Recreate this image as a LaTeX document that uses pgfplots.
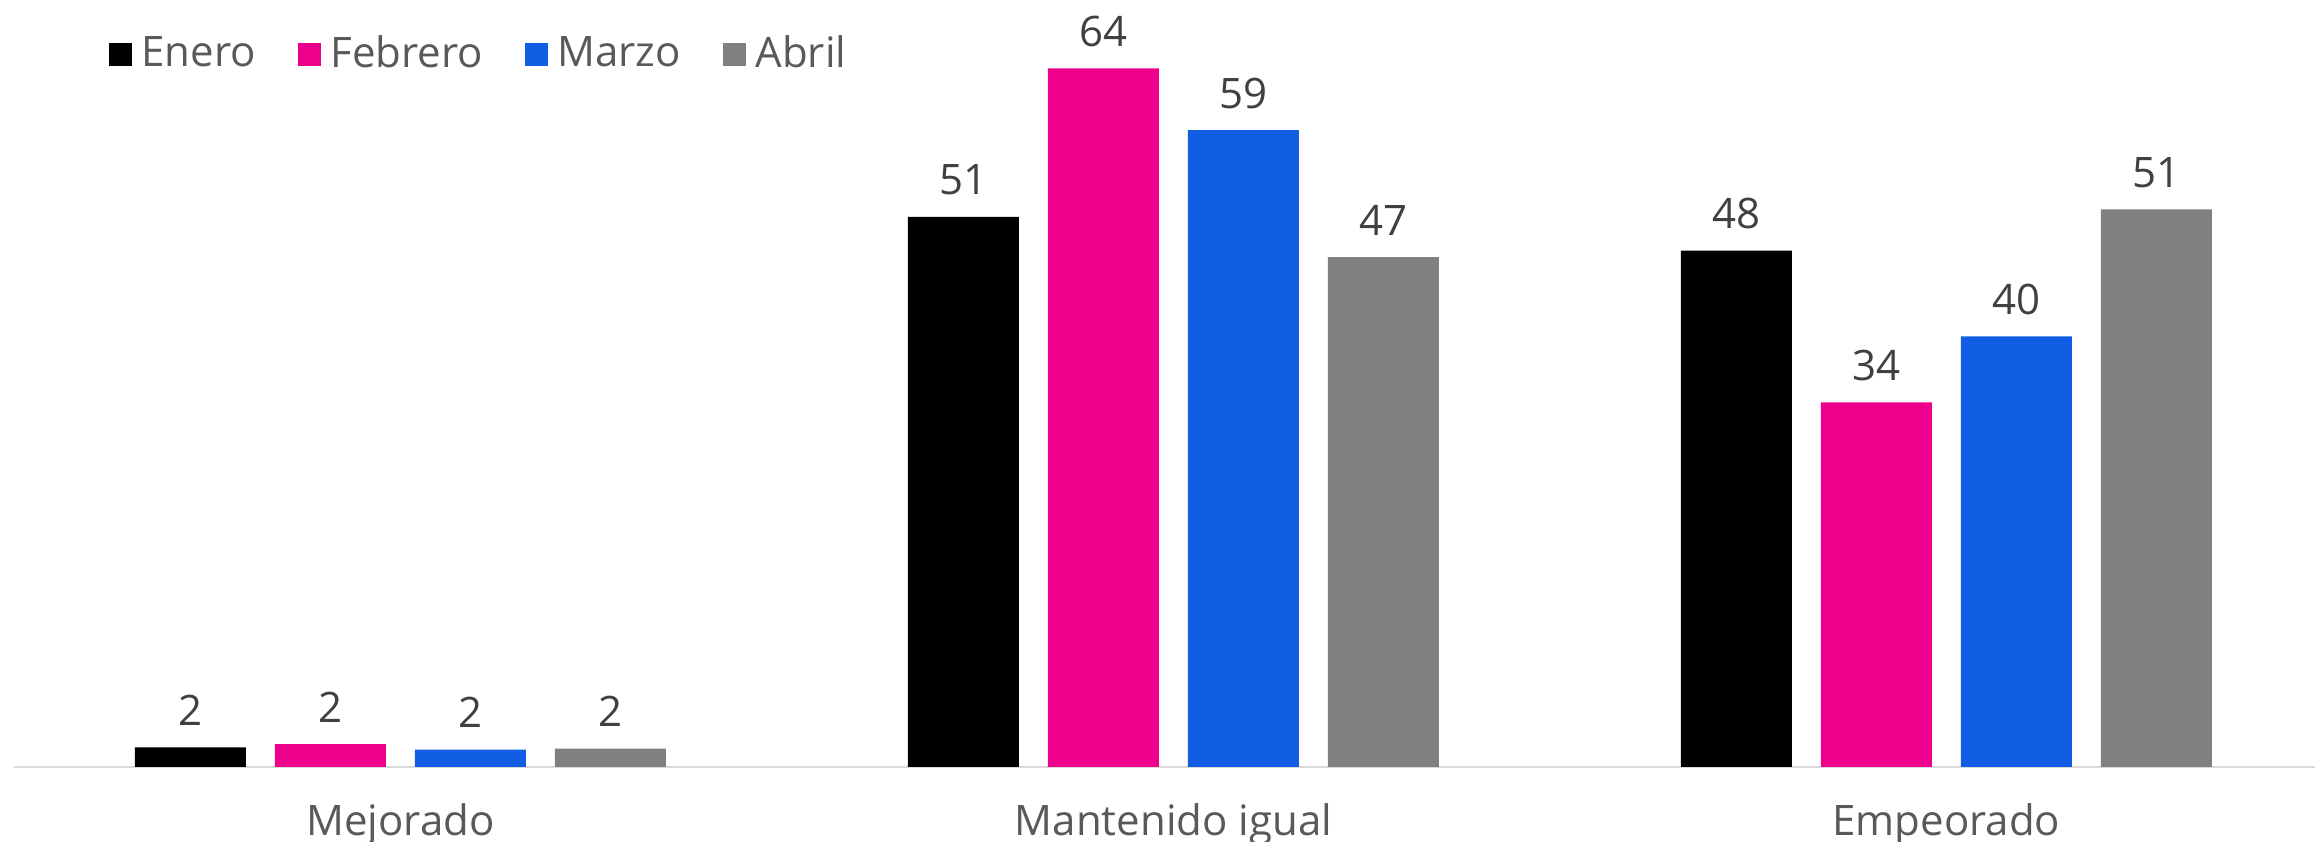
\documentclass[border=0pt]{standalone}
\usepackage{fontspec}
\setmainfont{Open Sans}
\usepackage{pgfplots}
\pgfplotsset{compat=1.18}

\definecolor{cEnero}{HTML}{000000}
\definecolor{cFeb}{HTML}{EC008C}
\definecolor{cMar}{HTML}{115DE3}
\definecolor{cAbr}{HTML}{808080}
\definecolor{txtgray}{HTML}{595959}
\definecolor{lblgray}{HTML}{404040}
\definecolor{linegray}{HTML}{D9D9D9}

\begin{document}
\begin{tikzpicture}
% 1 px of the reference = 0.25pt
\useasboundingbox (0,0) rectangle (578.75pt,210.5pt);
\begin{axis}[
    at={(3.5pt,18.75pt)}, anchor=south west,
    scale only axis,
    width=575.25pt, height=191.75pt,
    xmin=-0.5, xmax=2.477,
    ymin=0, ymax=70.7,
    enlargelimits=false,
    clip=false,
    ybar=7.25pt,
    bar width=27.75pt,
    axis x line*=bottom,
    axis y line=none,
    x axis line style={-, draw=linegray, line width=0.5pt},
    xtick={0,1,2},
    xticklabels={Mejorado, Mantenido igual, Empeorado},
    major tick length=0pt,
    xticklabel style={anchor=base, yshift=-17.25pt, font=\fontsize{10.5}{12}\selectfont, text=txtgray},
    /pgf/number format/assume math mode=true,
    nodes near coords={\pgfmathprintnumber[fixed,precision=0]{\pgfplotspointmeta}},
    nodes near coords style={anchor=base, yshift=5.5pt, font=\fontsize{10.5}{12}\selectfont, text=lblgray},
    legend image code/.code={\fill[#1] (0pt,-2.875pt) rectangle (5.75pt,2.875pt);},
    legend style={at={(0.0409,0.929)}, anchor=west, draw=none, fill=none, inner sep=0pt,
        legend columns=4, font=\fontsize{10.5}{12}\selectfont, text=txtgray,
        /tikz/every even column/.append style={column sep=8.5pt}},
]
\addplot[fill=cEnero, draw=none] coordinates {(0,1.8) (1,50.7) (2,47.6)};
\addplot[fill=cFeb, draw=none] coordinates {(0,2.1) (1,64.4) (2,33.6)};
\addplot[fill=cMar, draw=none] coordinates {(0,1.6) (1,58.7) (2,39.7)};
\addplot[fill=cAbr, draw=none] coordinates {(0,1.7) (1,47.0) (2,51.4)};
\legend{\hspace{0.4pt}Enero, \hspace{0.4pt}Febrero, \hspace{0.4pt}Marzo, \hspace{0.4pt}Abril}
\end{axis}
\end{tikzpicture}
\end{document}
